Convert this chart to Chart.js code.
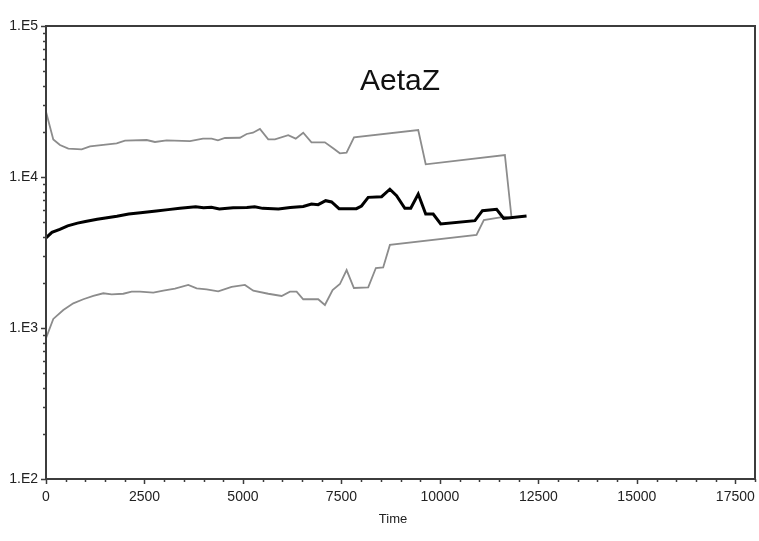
<!DOCTYPE html>
<html>
<head>
<meta charset="utf-8">
<title>AetaZ</title>
<script src="https://cdn.jsdelivr.net/npm/chart.js@4/dist/chart.umd.min.js"></script>
<style>
  html, body { margin: 0; padding: 0; background: #fff; }
  #chart { display: block; }
</style>
</head>
<body>
<canvas id="chart" width="759" height="541"></canvas>
<script>
// mean curve
const meanTime = [0, 150, 350, 550, 800, 1000, 1300, 1550, 1800, 2100, 2400, 2800, 3100, 3400, 3800,
  4000, 4200, 4400, 4750, 5100, 5300, 5500, 5900, 6200, 6530, 6740, 6910, 7100, 7250, 7440, 7880,
  8010, 8180, 8520, 8730, 8900, 9110, 9260, 9450, 9640, 9830, 10020, 10890, 11080, 11440, 11620, 12200];
const meanValue = [3950, 4300, 4500, 4750, 4950, 5080, 5250, 5380, 5500, 5680, 5800, 5950, 6080, 6200, 6350,
  6250, 6300, 6150, 6250, 6280, 6350, 6200, 6150, 6280, 6380, 6620, 6560, 6970, 6830, 6170, 6170,
  6430, 7330, 7410, 8300, 7520, 6210, 6210, 7710, 5690, 5690, 4890, 5140, 5980, 6110, 5320, 5520];

// upper bound
const upperTime = [0, 185, 355, 566, 906, 1117, 1794, 2005, 2556, 2766, 3063, 3655, 3985, 4205, 4365,
  4543, 4924, 5094, 5254, 5431, 5642, 5812, 6150, 6340, 6530, 6740, 7080, 7290, 7460, 7630, 7820,
  9450, 9640, 11650, 11820];
const upperValue = [27100, 17750, 16300, 15400, 15250, 15970, 16700, 17400, 17580, 17060, 17500, 17300, 17950, 17980, 17500,
  18130, 18200, 19270, 19650, 20800, 17750, 17750, 18900, 17950, 19650, 16980, 16980, 15490, 14350, 14490, 18330,
  20470, 12140, 13990, 5350];

// lower bound
const lowerTime = [0, 185, 440, 693, 947, 1201, 1455, 1666, 1962, 2174, 2386, 2724, 2978, 3274, 3612,
  3825, 4078, 4373, 4712, 5050, 5262, 5643, 5982, 6193, 6363, 6530, 6911, 7081, 7276, 7462, 7632,
  7817, 8180, 8375, 8560, 8731, 10930, 11116, 11649, 11820];
const lowerValue = [855, 1148, 1315, 1457, 1550, 1630, 1698, 1672, 1686, 1740, 1740, 1714, 1767, 1820, 1927,
  1832, 1803, 1750, 1870, 1927, 1767, 1686, 1630, 1740, 1740, 1550, 1550, 1420, 1786, 1955, 2420,
  1840, 1858, 2495, 2520, 3550, 4130, 5190, 5460, 5350];

// axes
const xTickValues = [0, 2500, 5000, 7500, 10000, 12500, 15000, 17500];
const xTickLabels = ['0', '2500', '5000', '7500', '10000', '12500', '15000', '17500'];
const xMinorStep = 500;
const xMax = 18000;
const yTickValues = [100, 1000, 10000, 100000];
const yTickLabels = ['1.E2', '1.E3', '1.E4', '1.E5'];
const yMinorFactors = [2, 3, 4, 5, 6, 7, 8, 9];

const toPoints = (t, v) => t.map((x, i) => ({ x: x, y: v[i] }));

const axisColor = '#3c3c3c';
const labelFont = { family: 'Liberation Sans, Arial, sans-serif', size: 14 };

// box around the plot, outward tick marks, plot title and x-axis name
const frameAndTicks = {
  id: 'frameAndTicks',
  afterDraw(chart) {
    const { ctx, chartArea: a, scales: { x, y } } = chart;
    ctx.save();
    ctx.strokeStyle = axisColor;
    ctx.lineWidth = 2;
    ctx.strokeRect(a.left, a.top, a.right - a.left, a.bottom - a.top);

    ctx.lineWidth = 1.5;
    ctx.beginPath();
    x.ticks.forEach(t => {
      const px = Math.round(x.getPixelForValue(t.value)) + 0.5;
      ctx.moveTo(px, a.bottom);
      ctx.lineTo(px, a.bottom + (t.major ? 5 : 3));
    });
    y.ticks.forEach(t => {
      const py = Math.round(y.getPixelForValue(t.value)) + 0.5;
      ctx.moveTo(a.left, py);
      ctx.lineTo(a.left - (t.major ? 5 : 3), py);
    });
    ctx.stroke();

    ctx.fillStyle = '#111';
    ctx.font = '30px "Liberation Sans", Arial, sans-serif';
    ctx.textAlign = 'center';
    ctx.textBaseline = 'alphabetic';
    ctx.fillText('AetaZ', 400, 90);

    ctx.font = '13px "Liberation Sans", Arial, sans-serif';
    ctx.fillStyle = '#222';
    ctx.textBaseline = 'middle';
    ctx.fillText('Time', 393, 519);
    ctx.restore();
  }
};

new Chart(document.getElementById('chart'), {
  type: 'line',
  data: {
    datasets: [
      { data: toPoints(meanTime, meanValue), borderColor: '#000', borderWidth: 3 },
      { data: toPoints(upperTime, upperValue), borderColor: '#8c8c8c', borderWidth: 1.8 },
      { data: toPoints(lowerTime, lowerValue), borderColor: '#8c8c8c', borderWidth: 1.8 }
    ]
  },
  options: {
    responsive: false,
    devicePixelRatio: 1,
    animation: false,
    elements: { point: { radius: 0 }, line: { tension: 0, fill: false } },
    layout: { padding: { top: 26, right: 4, left: 0, bottom: 0 } },
    plugins: { legend: { display: false }, tooltip: { enabled: false } },
    scales: {
      x: {
        type: 'linear',
        min: 0,
        max: xMax,
        grid: { display: true, drawOnChartArea: false, drawTicks: false },
        border: { display: false },
        afterBuildTicks(scale) {
          const ticks = [];
          for (let v = 0; v <= xMax; v += xMinorStep) {
            ticks.push({ value: v, major: xTickValues.includes(v) });
          }
          scale.ticks = ticks;
        },
        afterFit(scale) {
          scale.height = 62;
          scale.paddingLeft = 0;
          scale.paddingRight = 0;
        },
        ticks: {
          autoSkip: false,
          maxRotation: 0,
          padding: 10,
          color: '#222',
          font: labelFont,
          callback: (value) => {
            const i = xTickValues.indexOf(value);
            return i >= 0 ? xTickLabels[i] : '';
          }
        }
      },
      y: {
        type: 'logarithmic',
        min: 100,
        max: 100000,
        grid: { display: true, drawOnChartArea: false, drawTicks: false },
        border: { display: false },
        afterBuildTicks(scale) {
          const ticks = [];
          yTickValues.forEach((d, k) => {
            ticks.push({ value: d, major: true });
            if (k < yTickValues.length - 1) {
              yMinorFactors.forEach(f => ticks.push({ value: d * f, major: false }));
            }
          });
          scale.ticks = ticks;
        },
        afterFit(scale) {
          scale.width = 46;
          scale.paddingTop = 0;
          scale.paddingBottom = 0;
        },
        ticks: {
          autoSkip: false,
          padding: 8,
          color: '#222',
          font: labelFont,
          callback: (value) => {
            const i = yTickValues.indexOf(value);
            return i >= 0 ? yTickLabels[i] : '';
          }
        }
      }
    }
  },
  plugins: [frameAndTicks]
});
</script>
</body>
</html>
